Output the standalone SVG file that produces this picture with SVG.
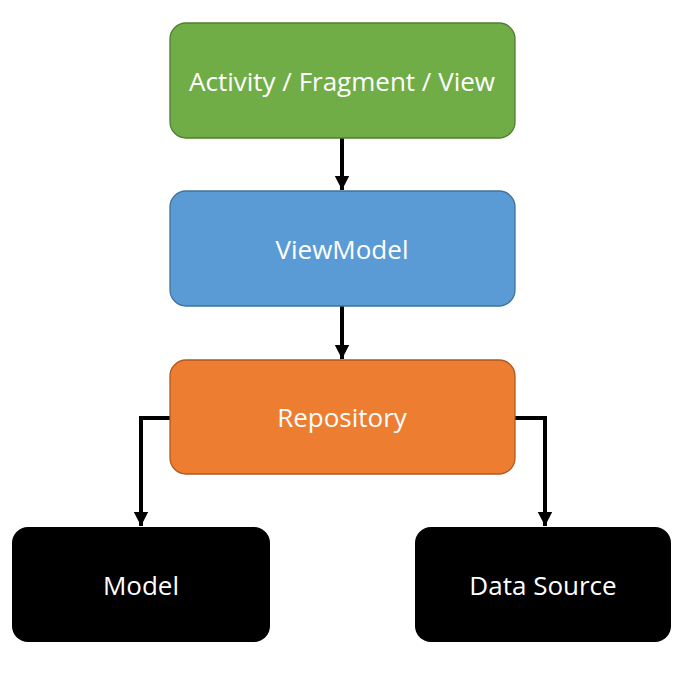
<svg xmlns="http://www.w3.org/2000/svg" width="685" height="685" viewBox="0 0 685 685">
  <defs>
    <marker id="arrow" markerWidth="4" markerHeight="4" refX="3.5" refY="2" orient="auto" markerUnits="strokeWidth">
      <path d="M0,0.2 L3.5,2 L0,3.8 Z" fill="#000"/>
    </marker>
    <style>
      .box { stroke-width: 1.3; }
      .label { font-family: "Open Sans", "Noto Sans", sans-serif; font-size: 26px; fill: #ffffff; text-anchor: middle; }
      .conn { fill: none; stroke: #000; stroke-width: 4; marker-end: url(#arrow); }
    </style>
  </defs>
  <rect width="685" height="685" fill="#ffffff"/>
  <g id="connectors">
    <path class="conn" d="M342,138 V190"/>
    <path class="conn" d="M342,306 V359"/>
    <path class="conn" d="M170,418 H141 V526"/>
    <path class="conn" d="M515,418 H545 V526"/>
  </g>
  <g id="activity">
    <rect class="box" x="170" y="23" width="345" height="115" rx="16" fill="#70AD47" stroke="#507E32"/>
    <text class="label" x="342" y="91">Activity / Fragment / View</text>
  </g>
  <g id="viewmodel">
    <rect class="box" x="170" y="191" width="345" height="115" rx="16" fill="#5B9BD5" stroke="#41719C"/>
    <text class="label" x="342" y="259">ViewModel</text>
  </g>
  <g id="repository">
    <rect class="box" x="170" y="360" width="345" height="114" rx="16" fill="#ED7D31" stroke="#AE5A21"/>
    <text class="label" x="342" y="427">Repository</text>
  </g>
  <g id="model">
    <rect x="12" y="527" width="258" height="115" rx="16" fill="#000000"/>
    <text class="label" x="141" y="595">Model</text>
  </g>
  <g id="datasource">
    <rect x="415" y="527" width="256" height="115" rx="16" fill="#000000"/>
    <text class="label" x="543" y="595">Data Source</text>
  </g>
</svg>
